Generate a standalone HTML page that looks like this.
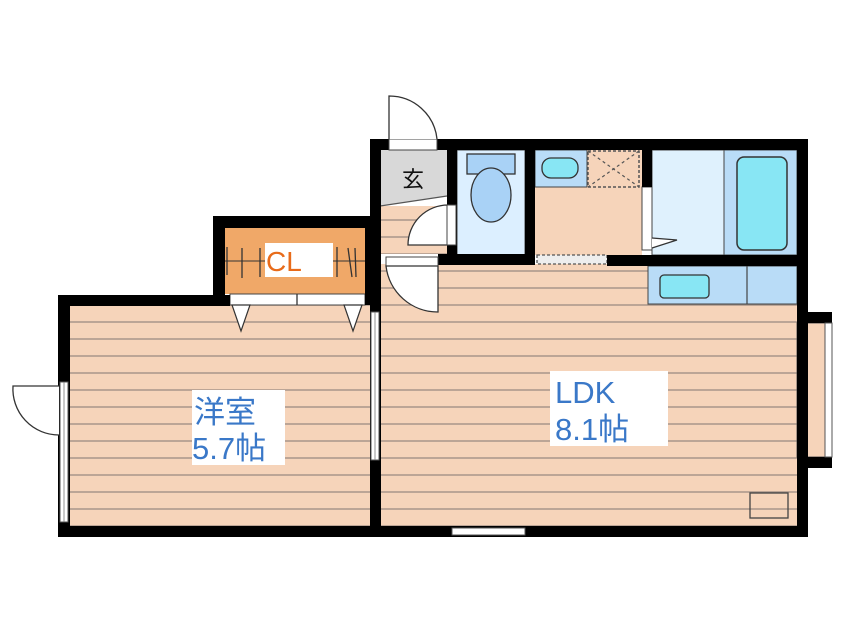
<!DOCTYPE html>
<html><head><meta charset="utf-8"><style>
html,body{margin:0;padding:0;background:#fff;width:846px;height:634px;overflow:hidden}
svg{display:block}
text{font-family:"Liberation Sans","Noto Sans CJK JP",sans-serif}
</style></head><body>
<svg width="846" height="634" viewBox="0 0 846 634" xmlns="http://www.w3.org/2000/svg">
<defs>
<pattern id="fl" x="0" y="0" width="10" height="17" patternUnits="userSpaceOnUse">
<rect width="10" height="17" fill="#f6d4ba"/>
<line x1="0" y1="16" x2="10" y2="16" stroke="#9c8c82" stroke-width="1.3"/>
</pattern>
</defs>
<rect x="70" y="305" width="300" height="222" fill="url(#fl)"/>
<rect x="380" y="264" width="417" height="263" fill="url(#fl)"/>
<rect x="797" y="323" width="30" height="134" fill="#f6d4ba" stroke="#555" stroke-width="1"/>
<rect x="380" y="206" width="67" height="48" fill="url(#fl)"/>
<polygon points="380,150 447,150 447,196 380,206" fill="#d8d8d8"/>
<line x1="380" y1="206" x2="447" y2="196" stroke="#555" stroke-width="1.3"/>
<text x="413" y="187" font-size="22" text-anchor="middle" fill="#111">玄</text>
<rect x="457" y="150" width="68" height="105" fill="#dcefff" stroke="#444" stroke-width="1"/>
<rect x="467" y="154" width="48" height="20" fill="#a9d2f6" stroke="#333" stroke-width="1.3"/>
<ellipse cx="491" cy="195" rx="20" ry="27" fill="#a9d2f6" stroke="#333" stroke-width="1.3"/>
<rect x="535" y="150" width="107" height="105" fill="#f6d4ba"/>
<rect x="535" y="150" width="52" height="37" fill="#b9dcf7" stroke="#444" stroke-width="1"/>
<rect x="542" y="158" width="36" height="20" rx="9" fill="#88e6f4" stroke="#333" stroke-width="1.3"/>
<rect x="588" y="151" width="51" height="36" fill="none" stroke="#555" stroke-width="1.5" stroke-dasharray="3,2"/>
<line x1="588" y1="151" x2="639" y2="187" stroke="#555" stroke-width="1.2" stroke-dasharray="3,3"/>
<line x1="639" y1="151" x2="588" y2="187" stroke="#555" stroke-width="1.2" stroke-dasharray="3,3"/>
<rect x="537" y="255" width="70" height="9" fill="#eee" stroke="#555" stroke-width="1.3" stroke-dasharray="3,2"/>
<rect x="652" y="150" width="145" height="105" fill="#dff1fd" stroke="#444" stroke-width="1"/>
<rect x="724" y="150" width="73" height="105" fill="#b9dcf7" stroke="#444" stroke-width="1"/>
<rect x="737" y="157" width="50" height="93" rx="7" fill="#88e6f4" stroke="#333" stroke-width="1.5"/>
<rect x="642" y="187" width="10" height="63" fill="#fff" stroke="#444" stroke-width="1"/>
<polyline points="652,238 677,240 652,248" fill="#fff" stroke="#333" stroke-width="1.2"/>
<rect x="648" y="266" width="149" height="38" fill="#b9dcf7" stroke="#444" stroke-width="1"/>
<line x1="747" y1="266" x2="747" y2="304" stroke="#444" stroke-width="1.2"/>
<rect x="660" y="275" width="49" height="23" rx="4" fill="#88e6f4" stroke="#333" stroke-width="1.3"/>
<rect x="750" y="493" width="38" height="25" fill="none" stroke="#444" stroke-width="1.3"/>
<rect x="225" y="228" width="145" height="66" fill="#f0a868"/>
<line x1="214" y1="261" x2="366" y2="261" stroke="#333" stroke-width="1"/>
<rect x="265" y="243" width="68" height="34" fill="#fff"/>
<text x="266" y="271" font-size="28" fill="#e86b1a">CL</text>
<g stroke="#333" stroke-width="1.3">
<line x1="227" y1="247" x2="227" y2="275"/><line x1="242" y1="248" x2="242" y2="278"/><line x1="260" y1="248" x2="260" y2="277"/>
<line x1="337" y1="247" x2="337" y2="277"/><line x1="348" y1="248" x2="352" y2="277"/><line x1="355" y1="248" x2="356" y2="277"/>
</g>
<rect x="230" y="294" width="135" height="11" fill="#fff" stroke="#444" stroke-width="1"/>
<line x1="297" y1="294" x2="297" y2="305" stroke="#333" stroke-width="1.3"/>
<polygon points="232,305 250,305 241,331" fill="#fff" stroke="#333" stroke-width="1.2"/>
<polygon points="344,305 362,305 353,331" fill="#fff" stroke="#333" stroke-width="1.2"/>
<g fill="#000">
<rect x="370" y="139" width="438" height="11"/>
<rect x="797" y="139" width="11" height="398"/>
<rect x="797" y="312" width="35" height="11"/>
<rect x="797" y="457" width="35" height="11"/>
<rect x="58" y="526" width="750" height="11"/>
<rect x="58" y="295" width="12" height="242"/>
<rect x="58" y="295" width="172" height="11"/>
<rect x="213" y="216" width="167" height="12"/>
<rect x="213" y="216" width="12" height="89"/>
<rect x="365" y="216" width="8" height="89"/>
<rect x="370" y="139" width="11" height="398"/>
<rect x="447" y="150" width="10" height="105"/>
<rect x="438" y="254" width="97" height="11"/>
<rect x="525" y="150" width="10" height="115"/>
<rect x="642" y="150" width="10" height="37"/>
<rect x="607" y="255" width="190" height="11"/>
</g>
<rect x="60" y="382" width="8" height="140" fill="#fff" stroke="#555" stroke-width="1"/>
<line x1="64" y1="382" x2="64" y2="522" stroke="#777" stroke-width="0.8"/>
<rect x="371" y="312" width="8" height="148" fill="#fff" stroke="#555" stroke-width="1"/>
<line x1="375" y1="312" x2="375" y2="460" stroke="#777" stroke-width="0.8"/>
<rect x="825" y="323" width="7" height="134" fill="#fff" stroke="#555" stroke-width="1"/>
<rect x="452" y="528" width="73" height="7" fill="#fff" stroke="#555" stroke-width="1"/>
<rect x="389" y="139" width="48" height="11" fill="#fff" stroke="#444" stroke-width="1"/>
<path d="M389,139 L389,96 A48,48 0 0 1 437,139" fill="#fff" stroke="#333" stroke-width="1.3"/>
<path d="M448,205 A40,40 0 0 0 408,245 L448,245 Z" fill="#fff" stroke="#333" stroke-width="1.3"/>
<rect x="447" y="205" width="9" height="40" fill="#fff" stroke="#444" stroke-width="1"/>
<rect x="386" y="257" width="52" height="9" fill="#fff" stroke="#444" stroke-width="1"/>
<path d="M386,266 A52,52 0 0 0 438,312 L438,266 Z" fill="#fff" stroke="#333" stroke-width="1.3"/>
<path d="M59,386 L13,386 A46,46 0 0 0 59,435" fill="#fff" stroke="#333" stroke-width="1.3"/>
<rect x="192" y="390" width="93" height="75" fill="#fff"/>
<text x="194" y="423" font-size="31" fill="#3a78c8">洋室</text>
<text x="192" y="459" font-size="31" fill="#3a78c8">5.7帖</text>
<rect x="550" y="371" width="118" height="75" fill="#fff"/>
<text x="555" y="403" font-size="31" fill="#3a78c8">LDK</text>
<text x="555" y="440" font-size="31" fill="#3a78c8">8.1帖</text>
</svg>
</body></html>
